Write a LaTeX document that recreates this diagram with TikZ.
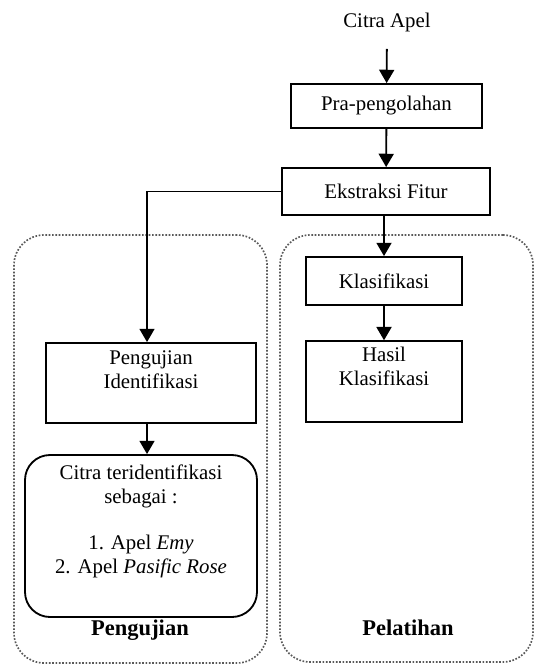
\documentclass[tikz,border=0pt]{standalone}
\usepackage{fontspec}
\setmainfont{Liberation Serif}
\usetikzlibrary{
    arrows.meta,
    positioning,
    calc
}
\tikzset{
    % --- Process step (plain rectangle) ---
    stepbox/.style = {
        rectangle, draw, line width=1.1pt,
        font=\fontsize{12.5}{14.5}\selectfont, align=center
    },
    % --- Result box with rounded corners ---
    result box/.style = {
        stepbox, rounded corners=15pt
    },
    % --- Dotted enclosure (phase group) ---
    phase border/.style = {
        rectangle, draw=black!65, densely dotted, line width=1pt,
        rounded corners=18pt
    },
    % --- Phase caption ---
    phase label/.style = {
        font=\fontsize{13.5}{15}\selectfont\bfseries
    },
    % --- Input text ---
    io_node/.style = {
        font=\fontsize{12.5}{14.5}\selectfont
    },
    % --- Data flow arrow ---
    flow/.style = {
        -{Triangle[width=9pt,length=8pt]}, line width=1.1pt
    }
}

\begin{document}
\begin{tikzpicture}[x=0.6pt, y=-0.6pt]

\useasboundingbox (0,0) rectangle (534,665);

% ---------------------------------------------------------
% Phase groups (drawn first, behind everything)
% ---------------------------------------------------------
\node[phase border, minimum width=151.8pt, minimum height=256.8pt] (test_grp) at (140.5,449) {};
\node[phase border, minimum width=151.8pt, minimum height=256.2pt] (train_grp) at (406.5,448.5) {};

\node[phase label] (test_lbl) at (140,630) {Pengujian};
\node[phase label] (train_lbl) at (408,628) {Pelatihan};

% ---------------------------------------------------------
% Common chain (top)
% ---------------------------------------------------------
\node[io_node] (src) at (387,22) {Citra Apel};

\node[stepbox, minimum width=114.6pt, minimum height=26.4pt] (pre) at (386.5,106) {Pra-pengolahan};

\node[stepbox, minimum width=124.8pt, minimum height=28.2pt] (feat) at (386,191.5) {Ekstraksi Fitur};

% ---------------------------------------------------------
% Training branch (right)
% ---------------------------------------------------------
\node[stepbox, minimum width=93.6pt, minimum height=28.8pt] (klas) at (384,281) {Klasifikasi};

\node[stepbox, minimum width=93.6pt, minimum height=46.2pt] (hasil) at (384,381.5) {%
    Hasil\\
    Klasifikasi\\[4pt]
};

% ---------------------------------------------------------
% Testing branch (left)
% ---------------------------------------------------------
\node[stepbox, minimum width=126pt, minimum height=48pt] (uji) at (151,383) {%
    Pengujian\\
    Identifikasi\\[2pt]
};

\node[result box, minimum width=139.2pt, minimum height=97.2pt] (hasil_uji) at (141,536) {%
    Citra teridentifikasi\\
    sebagai :\\[13pt]
    1. Apel \textit{Emy}\\
    2. Apel \textit{Pasific Rose}\\[6pt]
};

% ---------------------------------------------------------
% Connections
% ---------------------------------------------------------
\coordinate (uji_in) at ($(uji.north)+(-4,0)$);

\draw[flow, shorten <=7pt] (src) -- (pre);
\draw[flow] (pre) -- (feat);
\draw[flow] (klas.north |- feat.south) -- (klas.north);
\draw[flow] (klas) -- (hasil);

\draw[flow] (feat.west) -| (uji_in);
\draw[flow] (uji_in |- uji.south) -- (uji_in |- hasil_uji.north);

\end{tikzpicture}
\end{document}
